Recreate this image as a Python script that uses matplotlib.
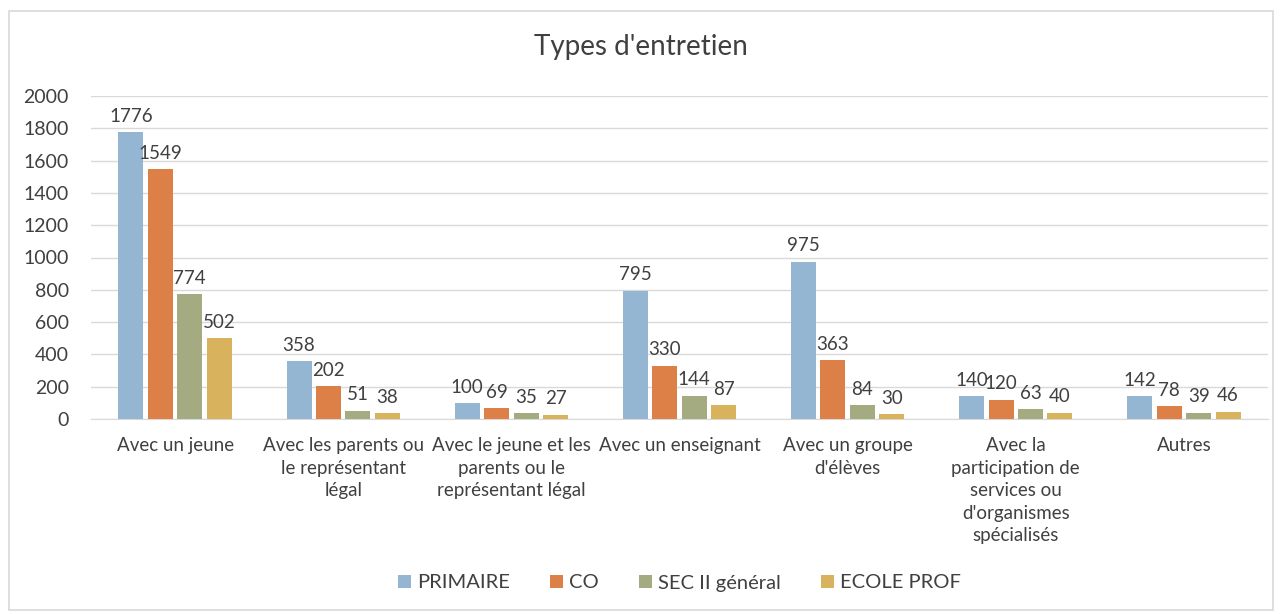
import numpy as np
import matplotlib.pyplot as plt

categories = ["Avec un jeune",
              "Avec les parents ou\nle représentant\nlégal",
              "Avec le jeune et les\nparents ou le\nreprésentant légal",
              "Avec un enseignant",
              "Avec un groupe\nd'élèves",
              "Avec la\nparticipation de\nservices ou\nd'organismes\nspécialisés",
              "Autres"]
series = ["PRIMAIRE", "CO", "SEC II général", "ECOLE PROF"]
primaire = [1776, 358, 100, 795, 975, 140, 142]
co = [1549, 202, 69, 330, 363, 120, 78]
sec2 = [774, 51, 35, 144, 84, 63, 39]
ecole_prof = [502, 38, 27, 87, 30, 40, 46]
colors = ["#94B6D2", "#DD8047", "#A5AB81", "#D8B25C"]

plt.rcParams['font.family'] = ['Lato', 'DejaVu Sans']
txt = "#404040"

fig = plt.figure(figsize=(12.81, 6.14), dpi=100)
ax = fig.add_axes([91 / 1281, 1 - 419 / 614, (1268 - 91) / 1281, (419 - 96) / 614])

# chart border
fig.patches.append(plt.Rectangle((9 / 1281, 4 / 614), 1264 / 1281, 599 / 614,
                                 transform=fig.transFigure, fill=False,
                                 edgecolor="#D9D9D9", linewidth=1.2))

x = np.arange(len(categories))
width = 0.148
step = 0.175
data = [primaire, co, sec2, ecole_prof]
for i, (vals, name, c) in enumerate(zip(data, series, colors)):
    pos = x + (i - 1.5) * step
    bars = ax.bar(pos, vals, width, color=c, label=name, zorder=3)
    for b, v in zip(bars, vals):
        ax.text(b.get_x() + b.get_width() / 2, v + 45, str(v), ha="center",
                va="bottom", fontsize=13.5, color=txt)

ax.set_xlim(-0.5, len(categories) - 0.5)
ax.set_ylim(0, 2000)
ax.set_yticks(range(0, 2001, 200))
ax.yaxis.grid(True, color="#D9D9D9", linewidth=1, zorder=0)
for s in ["top", "right", "left"]:
    ax.spines[s].set_visible(False)
ax.spines["bottom"].set_color("#D9D9D9")
ax.tick_params(axis="y", length=0, labelsize=14, labelcolor=txt, pad=16)
ax.tick_params(axis="x", length=0, labelsize=13.5, labelcolor=txt, pad=13)
ax.set_xticks(x)
ax.set_xticklabels(categories, linespacing=1.4, va="top")

fig.text(0.5, 1 - 47 / 614, "Types d'entretien", ha="center", va="center",
         fontsize=20, color=txt)

ax.legend(loc="center", bbox_to_anchor=(0.5, (419 - 583) / (419 - 96)), ncol=4,
          frameon=False, fontsize=14.5, handlelength=0.65, handleheight=0.65,
          handletextpad=0.3, columnspacing=2.0, labelcolor=txt)

fig.savefig("out.png", dpi=100)
